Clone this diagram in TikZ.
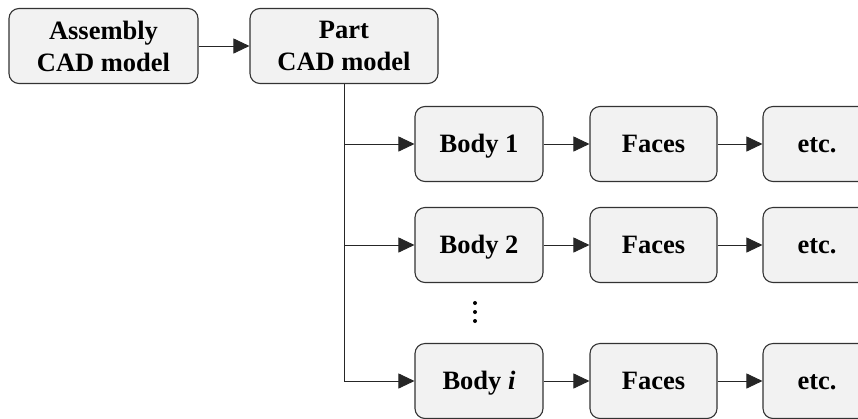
\documentclass[tikz,border=0pt]{standalone}
\usepackage{fontspec}
\setmainfont{Liberation Serif}
\usetikzlibrary{arrows.meta}
\begin{document}
\begin{tikzpicture}[x=1pt,y=-1pt,
  box/.style={draw=black!80, fill=black!5, rounded corners=10pt, line width=1.1pt,
    minimum height=75pt, inner sep=0pt, align=center,
    font=\fontsize{26.5}{32}\selectfont\bfseries},
  onebox/.style={box, text height=20pt, text depth=3pt},
  conn/.style={line width=0.9pt, draw=black!85, -{Triangle[length=16pt,width=15pt]}},
  dotmark/.style={fill=black, circle, inner sep=0pt, minimum size=4pt}]
\useasboundingbox (0,0) rectangle (858,418);
\clip (0,0) rectangle (858,418);
\node[box, minimum width=189pt] (asm) at (103.5,46) {Assembly\\CAD model};
\node[box, minimum width=188pt] (part) at (344,46) {Part\\CAD model};
\node[onebox, minimum width=128pt] (b1) at (479,144) {Body 1};
\node[onebox, minimum width=128pt] (b2) at (479,245) {Body 2};
\node[onebox, minimum width=128pt] (bi) at (479,381) {Body \textit{i}};
\node[onebox, minimum width=127pt] (f1) at (653.5,144) {Faces};
\node[onebox, minimum width=127pt] (f2) at (653.5,245) {Faces};
\node[onebox, minimum width=127pt] (fi) at (653.5,381) {Faces};
\node[onebox, minimum width=108pt] (e1) at (817,144) {etc.};
\node[onebox, minimum width=108pt] (e2) at (817,245) {etc.};
\node[onebox, minimum width=108pt] (ei) at (817,381) {etc.};
\node[dotmark] (d1) at (475,303) {};
\node[dotmark] (d2) at (475,312) {};
\node[dotmark] (d3) at (475,321) {};
\draw[conn] (asm) -- (part);
\draw[conn] (part.south) |- (b1.west);
\draw[conn] (part.south) |- (b2.west);
\draw[conn] (part.south) |- (bi.west);
\draw[conn] (b1) -- (f1);
\draw[conn] (b2) -- (f2);
\draw[conn] (bi) -- (fi);
\draw[conn] (f1) -- (e1);
\draw[conn] (f2) -- (e2);
\draw[conn] (fi) -- (ei);
\end{tikzpicture}
\end{document}
